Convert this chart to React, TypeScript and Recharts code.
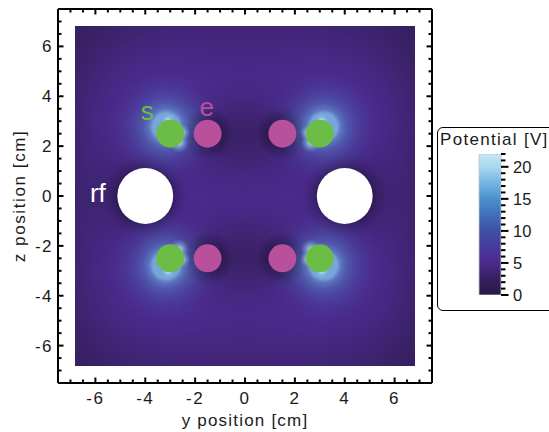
import React from 'react'
import { ScatterChart, Scatter, XAxis, YAxis, BarChart, Bar } from 'recharts'

// frame ticks every 0.5 cm, labels every 2 cm
const FRAME_TICKS = [
  -7, -6.5, -6, -5.5, -5, -4.5, -4, -3.5, -3, -2.5, -2, -1.5, -1, -0.5, 0,
  0.5, 1, 1.5, 2, 2.5, 3, 3.5, 4, 4.5, 5, 5.5, 6, 6.5, 7
]
const LABELLED_TICKS = [-6, -4, -2, 0, 2, 4, 6]

// electrode centres (y, z) in cm
const SCREEN = [
  { x: -3, y: 2.5 },
  { x: 3, y: 2.5 },
  { x: -3, y: -2.5 },
  { x: 3, y: -2.5 }
]
const ENDCAP = [
  { x: -1.5, y: 2.5 },
  { x: 1.5, y: 2.5 },
  { x: -1.5, y: -2.5 },
  { x: 1.5, y: -2.5 }
]
const RF = [
  { x: -4, y: 0 },
  { x: 4, y: 0 }
]
const TAGS = [
  { x: -3.92, y: 3.05, text: 's' },
  { x: -1.53, y: 3.2, text: 'e' },
  { x: -5.9, y: -0.23, text: 'rf' }
]

// potential [V] for one quadrant (y >= 0, z >= 0)
// rows: z = 7 .. 0, columns: y = 0 .. 7
const QUADRANT = [
  [3.6, 3.6, 3.6, 3.5, 3.3, 3.0, 2.6, 2.2],
  [4.2, 4.2, 4.3, 4.3, 4.1, 3.7, 3.1, 2.5],
  [4.8, 4.9, 5.0, 5.2, 5.0, 4.5, 3.7, 2.8],
  [4.5, 4.7, 5.1, 5.6, 5.6, 5.0, 4.2, 3.0],
  [2.8, 3.4, 4.6, 5.8, 5.8, 5.2, 4.4, 3.1],
  [2.6, 3.2, 4.4, 5.8, 5.6, 5.0, 4.3, 3.1],
  [4.2, 4.4, 4.8, 5.0, 4.0, 3.8, 3.9, 3.2],
  [5.0, 5.0, 5.0, 4.4, 1.0, 2.8, 3.7, 3.2]
]

const COLORBAR_MAX = 22
const COLORBAR_TICKS = [0, 1, 2, 3, 4, 5, 6, 7, 8, 9, 10, 11, 12, 13, 14, 15, 16, 17, 18, 19, 20, 21, 22]
const COLORBAR_LABELS = [0, 5, 10, 15, 20]

const CMAP: [number, string][] = [
  [0, '#2a1846'],
  [2.5, '#37205f'],
  [5, '#4b2a8e'],
  [7.5, '#463a9c'],
  [10, '#3d50a4'],
  [12.5, '#416fba'],
  [15, '#4a90cd'],
  [17.5, '#74b5e2'],
  [20, '#a9d8f0'],
  [22, '#c6e7f6']
]

const HEAT: { x: number; y: number; v: number }[] = []
for (let zi = -7; zi <= 7; zi++) {
  for (let yi = -7; yi <= 7; yi++) {
    HEAT.push({ x: yi, y: zi, v: QUADRANT[7 - Math.abs(zi)][Math.abs(yi)] })
  }
}

const FONT = '"Liberation Sans", Arial, Helvetica, sans-serif'
const PLOT = { left: 58, top: 9, size: 374 }
const HALF = 7.5
const UNIT = PLOT.size / (2 * HALF)
const MAP_EDGE = 6.82

function hex(c: string) {
  return [1, 3, 5].map((i) => parseInt(c.slice(i, i + 2), 16))
}

function colorOf(v: number) {
  if (v <= CMAP[0][0]) return CMAP[0][1]
  for (let i = 1; i < CMAP.length; i++) {
    const [v1, c1] = CMAP[i]
    const [v0, c0] = CMAP[i - 1]
    if (v <= v1) {
      const t = (v - v0) / (v1 - v0)
      const a = hex(c0)
      const b = hex(c1)
      return `rgb(${a.map((k, j) => Math.round(k + (b[j] - k) * t)).join(',')})`
    }
  }
  return CMAP[CMAP.length - 1][1]
}

const sgn = (n: number) => (n < 0 ? -1 : 1)

function FrameTick(props: any) {
  const { x, y, payload, side } = props
  const v = payload.value
  const major = LABELLED_TICKS.includes(v)
  const len = major ? 5.5 : 3.5
  const line = { stroke: '#000', strokeWidth: 2 }
  const text = { fontFamily: FONT, fontSize: 17, fill: '#1a1a1a', letterSpacing: 1.5 }
  if (side === 'bottom') {
    return (
      <g>
        <line x1={x} y1={y} x2={x} y2={y - len} {...line} />
        {major && (
          <text x={x} y={y + 21} textAnchor="middle" {...text}>
            {String(v)}
          </text>
        )}
      </g>
    )
  }
  if (side === 'left') {
    return (
      <g>
        <line x1={x} y1={y} x2={x + len} y2={y} {...line} />
        {major && (
          <text x={x - 5} y={y + 6} textAnchor="end" {...text}>
            {String(v)}
          </text>
        )}
      </g>
    )
  }
  if (side === 'top') return <line x1={x} y1={y} x2={x} y2={y + len} {...line} />
  return <line x1={x} y1={y} x2={x - len} y2={y} {...line} />
}

function ColorbarTick(props: any) {
  const { x, y, payload } = props
  const major = COLORBAR_LABELS.includes(payload.value)
  return (
    <g>
      <line x1={x} y1={y} x2={x + (major ? 7.5 : 4.5)} y2={y} stroke="#000" strokeWidth={2} />
      {major && (
        <text x={x + 12} y={y + 6} fontFamily={FONT} fontSize={16.5} fill="#1a1a1a">
          {payload.value}
        </text>
      )}
    </g>
  )
}

// border cells are stretched outwards so the blur has no transparent edge
function HeatCell(props: any) {
  const { cx, cy, payload } = props
  const w = UNIT + 1
  const pad = 2 * UNIT
  const left = payload.x === -7 ? pad : 0
  const right = payload.x === 7 ? pad : 0
  const top = payload.y === 7 ? pad : 0
  const bottom = payload.y === -7 ? pad : 0
  return (
    <rect
      className="heat-cell"
      x={cx - w / 2 - left}
      y={cy - w / 2 - top}
      width={w + left + right}
      height={w + top + bottom}
      fill={colorOf(payload.v)}
    />
  )
}

function Shadow(props: any) {
  const { cx, cy, r, grad } = props
  return <circle cx={cx} cy={cy} r={r} fill={`url(#${grad})`} />
}

function Glow(props: any) {
  const { cx, cy, payload } = props
  const sx = sgn(payload.x)
  const sz = sgn(payload.y)
  return (
    <g>
      <circle cx={cx + sx * 4} cy={cy - sz * 7} r={58} fill="url(#glow)" />
      <circle cx={cx - sx * 9} cy={cy + sz * 9} r={10} fill="url(#spot)" />
      <circle cx={cx - sx * 12} cy={cy - sz * 1} r={8} fill="url(#spot)" />
      <circle cx={cx + sx * 2} cy={cy - sz * 13} r={7} fill="url(#spot)" />
    </g>
  )
}

function Disc(props: any) {
  const { cx, cy, r, color } = props
  return <circle cx={cx} cy={cy} r={r} fill={color} />
}

const TAG_COLOR: Record<string, string> = { s: '#6cbd45', e: '#b8509b', rf: '#ffffff' }

function Tag(props: any) {
  const { cx, cy, payload } = props
  return (
    <text x={cx} y={cy} textAnchor="middle" fontFamily={FONT} fontSize={26} fill={TAG_COLOR[payload.text]}>
      {payload.text}
    </text>
  )
}

function XTitle(props: any) {
  const { viewBox } = props
  return (
    <text
      x={viewBox.x + viewBox.width / 2}
      y={viewBox.y + 43}
      textAnchor="middle"
      fontFamily={FONT}
      fontSize={17}
      letterSpacing={1.2}
      fill="#1a1a1a"
    >
      y position [cm]
    </text>
  )
}

function YTitle(props: any) {
  const { viewBox } = props
  const cy = viewBox.y + viewBox.height / 2
  return (
    <text
      x={24.5}
      y={cy}
      transform={`rotate(-90 24.5 ${cy})`}
      textAnchor="middle"
      fontFamily={FONT}
      fontSize={17}
      letterSpacing={1.6}
      fill="#1a1a1a"
    >
      z position [cm]
    </text>
  )
}

export default function App() {
  const smallR = 0.56 * UNIT
  const rfR = 1.12 * UNIT
  const clipX = PLOT.left + (HALF - MAP_EDGE) * UNIT
  const clipY = PLOT.top + (HALF - MAP_EDGE) * UNIT
  const clipW = 2 * MAP_EDGE * UNIT
  const axisLine = { stroke: '#000', strokeWidth: 2 }

  return (
    <div
      style={{
        position: 'absolute',
        left: 0,
        top: 0,
        width: 549,
        height: 432,
        overflow: 'hidden',
        background: '#fff',
        fontFamily: FONT
      }}
    >
      <style>{`.recharts-scatter:has(.heat-cell) { filter: blur(14px); clip-path: url(#heatClip); }`}</style>
      <ScatterChart width={549} height={432} margin={{ top: 0, right: 107, bottom: 0, left: 0 }}>
        <defs>
          <clipPath id="heatClip" clipPathUnits="userSpaceOnUse">
            <rect x={clipX} y={clipY} width={clipW} height={clipW} />
          </clipPath>
          <radialGradient id="glow">
            <stop offset="0.23" stopColor="#84c4ec" stopOpacity={0.8} />
            <stop offset="0.3" stopColor="#68a2dc" stopOpacity={0.6} />
            <stop offset="0.42" stopColor="#5584ca" stopOpacity={0.45} />
            <stop offset="0.6" stopColor="#4e68b8" stopOpacity={0.28} />
            <stop offset="0.8" stopColor="#4a50a8" stopOpacity={0.12} />
            <stop offset="1" stopColor="#4a48a4" stopOpacity={0} />
          </radialGradient>
          <radialGradient id="spot">
            <stop offset="0" stopColor="#dff6fc" stopOpacity={0.85} />
            <stop offset="0.5" stopColor="#9fd6f2" stopOpacity={0.4} />
            <stop offset="1" stopColor="#7fbde6" stopOpacity={0} />
          </radialGradient>
          <radialGradient id="rfShadow">
            <stop offset="0.62" stopColor="#1a0d31" stopOpacity={0.5} />
            <stop offset="0.78" stopColor="#1e1038" stopOpacity={0.2} />
            <stop offset="1" stopColor="#1e1038" stopOpacity={0} />
          </radialGradient>
          <radialGradient id="eShadow">
            <stop offset="0.5" stopColor="#1c0f33" stopOpacity={0.55} />
            <stop offset="1" stopColor="#1c0f33" stopOpacity={0} />
          </radialGradient>
        </defs>
        <XAxis
          xAxisId="b"
          dataKey="x"
          type="number"
          domain={[-HALF, HALF]}
          ticks={FRAME_TICKS}
          interval={0}
          height={49}
          tickSize={0}
          tickMargin={0}
          tickLine={false}
          axisLine={axisLine}
          allowDataOverflow
          tick={(p: any) => <FrameTick {...p} side="bottom" />}
          label={<XTitle />}
        />
        <XAxis
          xAxisId="t"
          dataKey="x"
          type="number"
          orientation="top"
          domain={[-HALF, HALF]}
          ticks={FRAME_TICKS}
          interval={0}
          height={9}
          tickSize={0}
          tickMargin={0}
          tickLine={false}
          axisLine={axisLine}
          allowDataOverflow
          tick={(p: any) => <FrameTick {...p} side="top" />}
        />
        <YAxis
          yAxisId="l"
          dataKey="y"
          type="number"
          domain={[-HALF, HALF]}
          ticks={FRAME_TICKS}
          interval={0}
          width={58}
          tickSize={0}
          tickMargin={0}
          tickLine={false}
          axisLine={axisLine}
          allowDataOverflow
          tick={(p: any) => <FrameTick {...p} side="left" />}
          label={<YTitle />}
        />
        <YAxis
          yAxisId="r"
          dataKey="y"
          type="number"
          orientation="right"
          domain={[-HALF, HALF]}
          ticks={FRAME_TICKS}
          interval={0}
          width={10}
          tickSize={0}
          tickMargin={0}
          tickLine={false}
          axisLine={axisLine}
          allowDataOverflow
          tick={(p: any) => <FrameTick {...p} side="right" />}
        />
        <Scatter
          data={HEAT}
          xAxisId="b"
          yAxisId="l"
          isAnimationActive={false}
          shape={(p: any) => <HeatCell {...p} />}
        />
        <Scatter
          data={RF}
          xAxisId="b"
          yAxisId="l"
          isAnimationActive={false}
          shape={(p: any) => <Shadow {...p} r={rfR * 1.5} grad="rfShadow" />}
        />
        <Scatter
          data={ENDCAP}
          xAxisId="b"
          yAxisId="l"
          isAnimationActive={false}
          shape={(p: any) => <Shadow {...p} r={smallR * 1.9} grad="eShadow" />}
        />
        <Scatter
          data={SCREEN}
          xAxisId="b"
          yAxisId="l"
          isAnimationActive={false}
          shape={(p: any) => <Glow {...p} />}
        />
        <Scatter
          data={ENDCAP}
          xAxisId="b"
          yAxisId="l"
          isAnimationActive={false}
          shape={(p: any) => <Disc {...p} r={smallR} color="#b8509b" />}
        />
        <Scatter
          data={SCREEN}
          xAxisId="b"
          yAxisId="l"
          isAnimationActive={false}
          shape={(p: any) => <Disc {...p} r={smallR} color="#6cbd45" />}
        />
        <Scatter
          data={RF}
          xAxisId="b"
          yAxisId="l"
          isAnimationActive={false}
          shape={(p: any) => <Disc {...p} r={rfR} color="#ffffff" />}
        />
        <Scatter
          data={TAGS}
          xAxisId="t"
          yAxisId="r"
          isAnimationActive={false}
          shape={(p: any) => <Tag {...p} />}
        />
      </ScatterChart>

      <div
        style={{
          position: 'absolute',
          left: 437,
          top: 127,
          width: 130,
          height: 182,
          border: '1.5px solid #000',
          borderRadius: 6,
          background: '#fff'
        }}
      />
      <div
        style={{
          position: 'absolute',
          left: 440,
          top: 130,
          fontSize: 17,
          lineHeight: '20px',
          letterSpacing: 1.3,
          color: '#1a1a1a',
          whiteSpace: 'nowrap'
        }}
      >
        Potential [V]
      </div>
      <div style={{ position: 'absolute', left: 470, top: 150 }}>
        <BarChart
          width={70}
          height={160}
          data={[{ name: 'potential', v: COLORBAR_MAX }]}
          margin={{ top: 4, right: 0, bottom: 15, left: 9 }}
          barCategoryGap={0}
        >
          <defs>
            <linearGradient id="cbGrad" x1="0" y1="1" x2="0" y2="0">
              {CMAP.map(([v, c]) => (
                <stop key={v} offset={v / COLORBAR_MAX} stopColor={c} />
              ))}
            </linearGradient>
          </defs>
          <XAxis dataKey="name" hide />
          <YAxis
            orientation="right"
            type="number"
            domain={[0, COLORBAR_MAX]}
            ticks={COLORBAR_TICKS}
            interval={0}
            width={39}
            tickSize={0}
            tickMargin={0}
            tickLine={false}
            axisLine={false}
            allowDataOverflow
            tick={(p: any) => <ColorbarTick {...p} />}
          />
          <Bar dataKey="v" fill="url(#cbGrad)" stroke="#c4c4cc" strokeWidth={0.8} isAnimationActive={false} />
        </BarChart>
      </div>
    </div>
  )
}
